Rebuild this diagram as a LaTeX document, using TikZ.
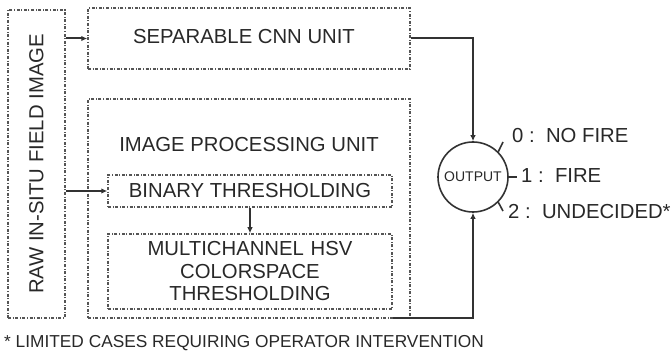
\documentclass[tikz,border=0pt]{standalone}
\usepackage{fontspec}
\setmainfont{Liberation Sans}
\usepackage{tikz}
\usetikzlibrary{arrows.meta, positioning}
\definecolor{lineGray}{RGB}{50, 50, 50}
\definecolor{textGray}{RGB}{40, 40, 40}
\definecolor{boxGray}{RGB}{85, 85, 85}

\begin{document}
\begin{tikzpicture}[x=1pt, y=-1pt,
        unitbox/.style={draw=boxGray, line width=1.5pt, dash pattern=on 3pt off 1.6pt on 1pt off 1.6pt, inner sep=0pt},
        flow/.style={draw=lineGray, line width=2pt, -{Latex[length=6pt, width=5.5pt]}},
        spoke/.style={draw=lineGray, line width=1.6pt},
        txt/.style={text=textGray, font=\fontsize{20.3}{22.5}\selectfont, align=center, inner sep=0pt}]
        \useasboundingbox (0,0) rectangle (672,358);
        % boxes
        \node[unitbox, minimum width=57pt, minimum height=308pt] (raw) at (36.5,164) {};
        \node[txt, rotate=90] (rawtxt) at (raw.center) {RAW IN-SITU FIELD IMAGE};
        \node[unitbox, minimum width=322pt, minimum height=61pt] (cnn) at (249,38.5) {};
        \node[txt] (cnntxt) at (244,37) {SEPARABLE CNN UNIT};
        \node[unitbox, minimum width=322pt, minimum height=219pt] (ipu) at (249,208.5) {};
        \node[txt] (iputxt) at (249,145) {IMAGE PROCESSING UNIT};
        \node[unitbox, minimum width=284pt, minimum height=32pt] (bin) at (250,191) {};
        \node[txt] (bintxt) at (bin.center) {BINARY THRESHOLDING};
        \node[unitbox, minimum width=284pt, minimum height=75pt] (hsv) at (250,271.5) {};
        \node[txt, text width=280pt] (hsvtxt) at (hsv.center) {MULTICHANNEL HSV\\COLORSPACE\\THRESHOLDING};
        % output
        \node[draw=lineGray, line width=1.6pt, circle, minimum size=70pt, inner sep=0pt, text=textGray, font=\fontsize{14}{16}\selectfont] (out) at (473,177) {OUTPUT};
        \coordinate (s0) at (503,142);
        \coordinate (s1) at (517,177);
        \coordinate (s2) at (503,211);
        \draw[spoke] (out.45) -- (s0);
        \draw[spoke] (out.east) -- (s1);
        \draw[spoke] (out.-45) -- (s2);
        \node[txt, anchor=west] (lab0) at (512,136) {0 :\ \ NO FIRE};
        \node[txt, anchor=west] (lab1) at (521,176) {1 :\ \ FIRE};
        \node[txt, anchor=west] (lab2) at (508,212) {2 :\ \ UNDECIDED*};
        % connectors
        \draw[flow] (raw.east |- cnn.west) -- (cnn.west);
        \draw[flow] (raw.east |- bin.west) -- (bin.west);
        \draw[flow] (bin.south) -- (hsv.north);
        \draw[flow] (cnn.east) -| (out.north);
        \draw[flow] ([yshift=-8pt]hsv.south east) -| (out.south);
        \node[txt, anchor=west, font=\fontsize{17.3}{19}\selectfont] (note) at (4,343) {* LIMITED CASES REQUIRING OPERATOR INTERVENTION};
      \end{tikzpicture}
\end{document}
